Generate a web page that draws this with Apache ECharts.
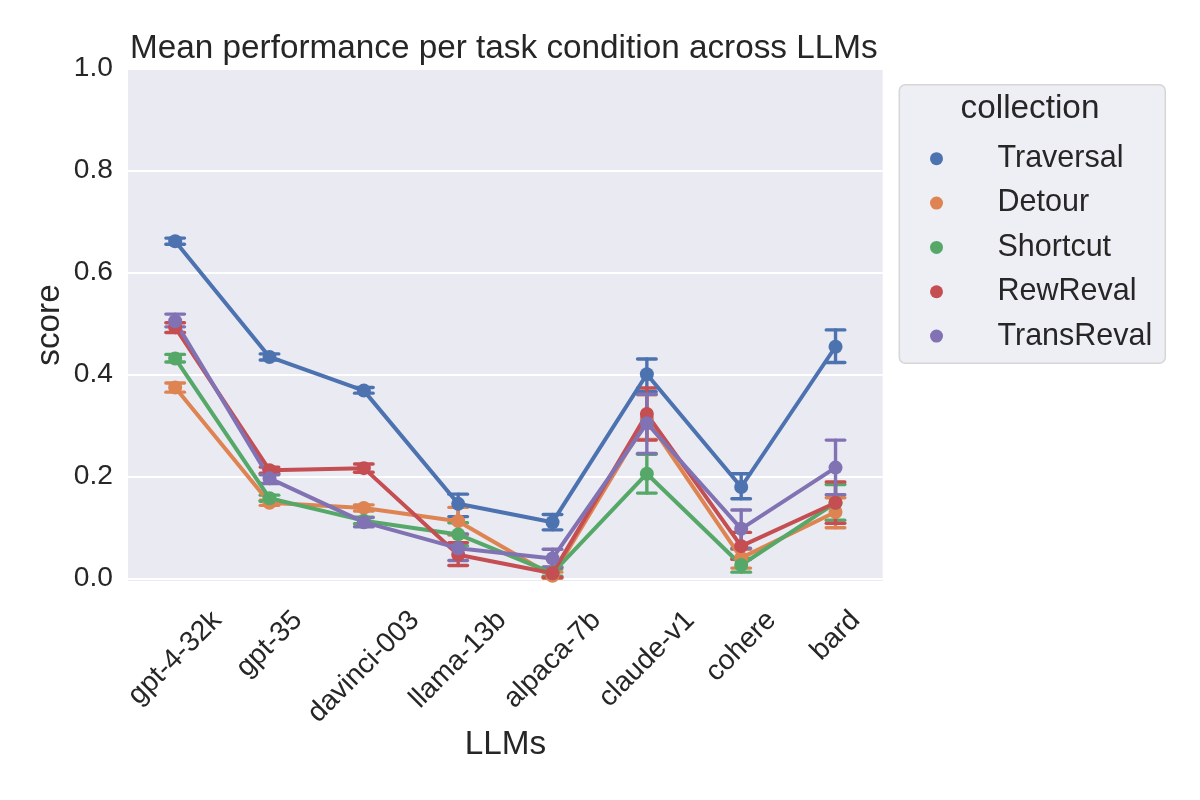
<!DOCTYPE html>
<html>
<head>
<meta charset="utf-8">
<title>Mean performance per task condition across LLMs</title>
<script src="https://cdn.jsdelivr.net/npm/echarts@6/dist/echarts.min.js"></script>
<style>
  html, body { margin: 0; padding: 0; background: #ffffff; }
  #chart { width: 1200px; height: 800px; }
</style>
</head>
<body>
<div id="chart"></div>
<script>
const llms = ['gpt-4-32k', 'gpt-35', 'davinci-003', 'llama-13b', 'alpaca-7b', 'claude-v1', 'cohere', 'bard'];
const collections = ['Traversal', 'Detour', 'Shortcut', 'RewReval', 'TransReval'];
const colors = ['#4c72b0', '#dd8452', '#55a868', '#c44e52', '#8172b3'];

// mean score and error bar ends per collection
const traversalMean = [0.661, 0.434, 0.368, 0.146, 0.110, 0.400, 0.179, 0.454];
const traversalLow  = [0.655, 0.428, 0.363, 0.121, 0.095, 0.366, 0.156, 0.423];
const traversalHigh = [0.667, 0.440, 0.374, 0.165, 0.125, 0.430, 0.205, 0.487];

const detourMean = [0.374, 0.148, 0.138, 0.112, 0.005, 0.312, 0.040, 0.130];
const detourLow  = [0.365, 0.143, 0.132, 0.085, 0.000, 0.272, 0.020, 0.099];
const detourHigh = [0.383, 0.153, 0.144, 0.139, 0.012, 0.360, 0.057, 0.158];

const shortcutMean = [0.431, 0.157, 0.113, 0.086, 0.010, 0.205, 0.026, 0.148];
const shortcutLow  = [0.424, 0.151, 0.107, 0.064, 0.004, 0.167, 0.012, 0.114];
const shortcutHigh = [0.439, 0.163, 0.120, 0.109, 0.018, 0.243, 0.039, 0.184];

const rewRevalMean = [0.492, 0.212, 0.216, 0.046, 0.010, 0.322, 0.063, 0.148];
const rewRevalLow  = [0.482, 0.206, 0.208, 0.025, 0.002, 0.271, 0.037, 0.108];
const rewRevalHigh = [0.501, 0.218, 0.224, 0.070, 0.021, 0.373, 0.090, 0.189];

const transRevalMean = [0.504, 0.196, 0.110, 0.059, 0.039, 0.304, 0.097, 0.217];
const transRevalLow  = [0.493, 0.186, 0.101, 0.035, 0.022, 0.245, 0.059, 0.164];
const transRevalHigh = [0.518, 0.203, 0.119, 0.087, 0.057, 0.361, 0.134, 0.271];

const means = [traversalMean, detourMean, shortcutMean, rewRevalMean, transRevalMean];
const lows = [traversalLow, detourLow, shortcutLow, rewRevalLow, transRevalLow];
const highs = [traversalHigh, detourHigh, shortcutHigh, rewRevalHigh, transRevalHigh];

const FONT = 'Liberation Sans';
const TEXT = '#262626';
const TICK_SIZE = 28.2;
const LINE_W = 4;
const ERR_W = 3.4;
const CAP_HALF = 9.3;

// x labels: matplotlib centres rotated labels, so push each one down by its length
const ctx = document.createElement('canvas').getContext('2d');
ctx.font = TICK_SIZE + 'px "' + FONT + '"';
const labelWidths = llms.map((s) => ctx.measureText(s).width);
const minWidth = Math.min(...labelWidths);
const labelRich = {};
llms.forEach((s, i) => {
  const p = (labelWidths[i] - minWidth) / 2;
  labelRich['r' + i] = {
    fontFamily: FONT,
    fontSize: TICK_SIZE,
    lineHeight: TICK_SIZE,
    color: TEXT,
    padding: [p, p, 0, 0],
  };
});
const labelMargin = 606 - 581.7 + 0.707 * (minWidth + TICK_SIZE) / 2;

function renderErrorBar(params, api) {
  const i = api.value(0);
  const top = api.coord([i, api.value(2)]);
  const bottom = api.coord([i, api.value(1)]);
  const style = { stroke: api.visual('color'), lineWidth: ERR_W, lineCap: 'round' };
  return {
    type: 'group',
    children: [
      { type: 'line', shape: { x1: top[0], y1: top[1], x2: bottom[0], y2: bottom[1] }, style },
      { type: 'line', shape: { x1: top[0] - CAP_HALF, y1: top[1], x2: top[0] + CAP_HALF, y2: top[1] }, style },
      { type: 'line', shape: { x1: bottom[0] - CAP_HALF, y1: bottom[1], x2: bottom[0] + CAP_HALF, y2: bottom[1] }, style },
    ],
  };
}

const series = [];
collections.forEach((name, k) => {
  series.push({
    name,
    type: 'line',
    data: means[k],
    symbol: 'circle',
    symbolSize: 14,
    showSymbol: true,
    clip: false,
    lineStyle: { width: LINE_W, color: colors[k] },
    itemStyle: { color: colors[k] },
    emphasis: { disabled: true },
    z: 2,
  });
  series.push({
    name,
    type: 'custom',
    renderItem: renderErrorBar,
    data: llms.map((_, i) => [i, lows[k][i], highs[k][i]]),
    encode: { x: 0, y: [1, 2] },
    itemStyle: { color: colors[k] },
    clip: false,
    z: 2,
  });
});

const chart = echarts.init(document.getElementById('chart'), null, { renderer: 'canvas' });
chart.setOption({
  animation: false,
  backgroundColor: '#ffffff',
  textStyle: { fontFamily: FONT, color: TEXT },
  title: {
    text: 'Mean performance per task condition across LLMs',
    left: 130,
    top: 32.5,
    padding: 0,
    textStyle: { fontFamily: FONT, fontSize: 33.3, lineHeight: 33.3, fontWeight: 'normal', color: TEXT },
  },
  grid: {
    left: 128,
    right: 317.3,
    top: 68.3,
    bottom: 218.3,
    show: true,
    backgroundColor: '#eaeaf2',
    borderWidth: 0,
    containLabel: false,
    outerBoundsMode: 'none',
  },
  xAxis: {
    type: 'category',
    data: llms,
    boundaryGap: true,
    name: 'LLMs',
    nameLocation: 'middle',
    nameGap: 146.8,
    nameMoveOverlap: false,
    nameTextStyle: { fontFamily: FONT, fontSize: 33.3, lineHeight: 33.3, color: TEXT },
    axisLine: { show: false },
    axisTick: { show: false },
    splitLine: { show: false },
    axisLabel: {
      interval: 0,
      rotate: 45,
      align: 'center',
      verticalAlign: 'middle',
      margin: labelMargin,
      fontFamily: FONT,
      fontSize: TICK_SIZE,
      color: TEXT,
      rich: labelRich,
      formatter: (value, index) => '{r' + index + '|' + value + '}',
    },
  },
  yAxis: {
    type: 'value',
    min: -0.0067,
    max: 1.0,
    splitNumber: 5,
    name: 'score',
    nameLocation: 'middle',
    nameRotate: 90,
    nameGap: 61.8,
    nameMoveOverlap: false,
    nameTextStyle: { fontFamily: FONT, fontSize: 33.3, lineHeight: 33.3, color: TEXT },
    axisLine: { show: false },
    axisTick: { show: false },
    splitLine: { show: true, lineStyle: { color: '#ffffff', width: 2 } },
    axisLabel: {
      margin: 15,
      fontFamily: FONT,
      fontSize: TICK_SIZE,
      color: TEXT,
      showMinLabel: true,
      showMaxLabel: true,
      formatter: (v) => (Math.abs(v / 0.2 - Math.round(v / 0.2)) < 1e-6 ? v.toFixed(1) : ''),
    },
  },
  legend: {
    data: collections,
    orient: 'vertical',
    left: 899.3,
    top: 84.7,
    icon: 'circle',
    itemWidth: 24,
    itemHeight: 13,
    itemGap: 13.35,
    padding: [58.5, 13, 11.7, 30.7],
    backgroundColor: '#eeeef5',
    borderColor: '#d6d6d6',
    borderWidth: 1.5,
    borderRadius: 6,
    selectedMode: false,
    textStyle: {
      fontFamily: FONT,
      fontSize: 30.5,
      lineHeight: 29,
      color: TEXT,
      padding: [0, 0, 0, 44],
    },
  },
  graphic: [
    {
      type: 'text',
      x: 1030,
      y: 108.6,
      z: 100,
      style: {
        text: 'collection',
        fontFamily: FONT,
        fontSize: 33.3,
        fill: TEXT,
        align: 'center',
        verticalAlign: 'middle',
      },
    },
  ],
  tooltip: { show: false },
  series,
});
</script>
</body>
</html>
